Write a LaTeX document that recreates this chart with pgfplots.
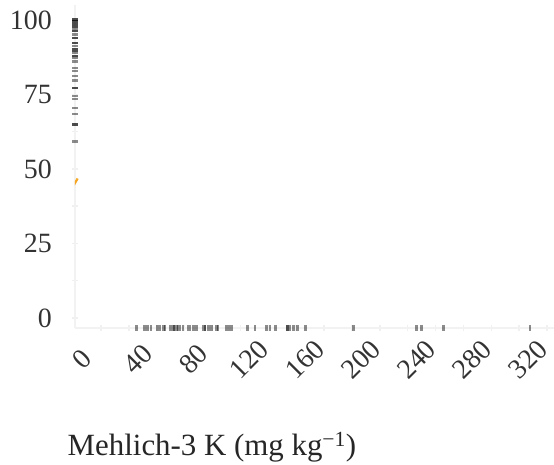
\documentclass[border=0pt]{standalone}
\usepackage{pgfplots}
\pgfplotsset{compat=1.18}
\usepackage{fontspec}
\setmainfont{Liberation Serif}
\definecolor{rugorange}{RGB}{245,166,35}
\begin{document}
\begin{tikzpicture}
\useasboundingbox (0,0) rectangle (554bp,465bp);
\begin{axis}[
  at={(75bp,137bp)}, anchor=south west,
  scale only axis, width=479bp, height=323bp,
  xmin=-18.7, xmax=325, ymin=-3.36, ymax=105,
  axis x line=bottom, axis y line=left,
  axis line style={gray!10, line width=1.5bp, -},
  xtick={0,40,...,320}, minor xtick={20,60,...,300},
  ytick={0,25,50,75,100}, minor ytick={12.5,37.5,62.5,87.5},
  tick align=center, major tick length=6bp, minor tick length=6bp,
  every tick/.style={gray!12, line width=1.5bp},
  /pgf/number format/assume math mode=true,
  ticklabel style={font=\fontsize{28}{30}\selectfont, text=black!80},
  xticklabel style={rotate=45, anchor=center, inner sep=0pt, xshift=-33.6bp, yshift=-6.7bp},
  yticklabel style={anchor=east, inner sep=0pt, xshift=-20bp},
  xlabel={Mehlich-3 K (mg kg\textsuperscript{−1})},
  xlabel style={at={(axis description cs:0.286,0)}, anchor=center, yshift=-119bp,
    font=\fontsize{31}{34}\selectfont, text=black!85},
  clip=true,
]
% x rug
\addplot[only marks, mark=|, mark size=3bp, mark options={line width=2.6bp, draw=black, opacity=0.45}]
coordinates {
(25.6,-3.36) (31.1,-3.36) (33.5,-3.36) (35.9,-3.36) (40.4,-3.36) (42.3,-3.36)
(44.7,-3.36) (45.9,-3.36) (49.5,-3.36) (50.9,-3.36) (52.4,-3.36) (52.4,-3.36) (54.3,-3.36)
(55.2,-3.36) (56.7,-3.36) (58.8,-3.36) (62.4,-3.36) (63.8,-3.36) (66.0,-3.36)
(67.4,-3.36) (68.7,-3.36) (73.2,-3.36) (74.6,-3.36) (74.6,-3.36) (76.8,-3.36) (78.2,-3.36)
(79.6,-3.36) (83.0,-3.36) (83.9,-3.36) (90.2,-3.36) (91.8,-3.36) (93.8,-3.36)
(105.0,-3.36) (110.5,-3.36) (118.9,-3.36) (121.2,-3.36) (125.3,-3.36) (133.9,-3.36) (133.9,-3.36)
(135.6,-3.36) (137.9,-3.36) (141.1,-3.36) (146.7,-3.36) (181.0,-3.36) (226.5,-3.36)
(230.0,-3.36) (245.6,-3.36) (307.7,-3.36)
};
% y rug
\addplot[only marks, mark=-, mark size=3bp, mark options={line width=2.4bp, draw=black, opacity=0.45}]
coordinates {
(-18.7,100.2) (-18.7,100.2) (-18.7,99.7) (-18.7,99.7) (-18.7,99.0) (-18.7,99.0) (-18.7,98.3)
(-18.7,98.3) (-18.7,97.7) (-18.7,97.7) (-18.7,97.0) (-18.7,96.3) (-18.7,96.3)
(-18.7,95.1) (-18.7,94.0) (-18.7,94.0) (-18.7,92.3) (-18.7,92.3) (-18.7,91.3)
(-18.7,90.3) (-18.7,90.3) (-18.7,89.6) (-18.7,89.6) (-18.7,88.9) (-18.7,87.9) (-18.7,87.9)
(-18.7,87.2) (-18.7,86.1) (-18.7,83.9) (-18.7,82.9) (-18.7,81.2) (-18.7,79.7)
(-18.7,77.2) (-18.7,77.2) (-18.7,74.5) (-18.7,73.5) (-18.7,70.5) (-18.7,68.5)
(-18.7,64.9) (-18.7,64.9) (-18.7,59.2)
};
% fitted curve fragment
\addplot[rugorange, line width=2.2bp] coordinates {(-19.5,44.6) (-16.8,46.8)};
\end{axis}
\end{tikzpicture}
\end{document}
